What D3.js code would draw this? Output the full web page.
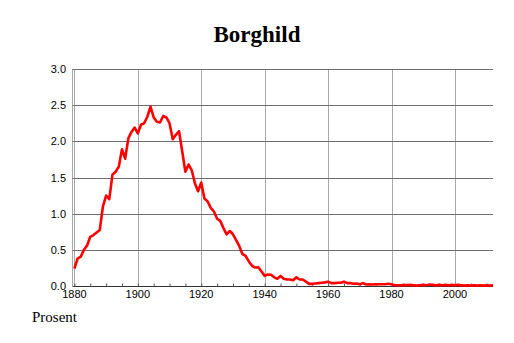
<!DOCTYPE html>
<html>
<head>
<meta charset="utf-8">
<script src="https://cdn.jsdelivr.net/npm/d3@7"></script>
<style>
  body { margin: 0; background: #fff; }
</style>
</head>
<body>
<div id="chart"></div>
<script>
const years = d3.range(1880, 2013);
const values = [
  0.24, 0.38, 0.405, 0.50, 0.56, 0.68, 0.705, 0.74, 0.775, 1.10,
  1.25, 1.20, 1.54, 1.58, 1.65, 1.89, 1.76, 2.04, 2.13, 2.19,
  2.11, 2.23, 2.25, 2.34, 2.48, 2.33, 2.27, 2.26, 2.35, 2.33,
  2.25, 2.03, 2.09, 2.14, 1.86, 1.58, 1.68, 1.60, 1.42, 1.31,
  1.43, 1.21, 1.17, 1.08, 1.03, 0.93, 0.90, 0.80, 0.715, 0.76,
  0.715, 0.635, 0.55, 0.44, 0.415, 0.34, 0.28, 0.255, 0.26, 0.20,
  0.14, 0.16, 0.155, 0.12, 0.10, 0.14, 0.10, 0.09, 0.09, 0.08,
  0.12, 0.09, 0.09, 0.06, 0.03, 0.03, 0.035, 0.04, 0.045, 0.05,
  0.06, 0.04, 0.04, 0.045, 0.045, 0.06, 0.04, 0.04, 0.03, 0.035,
  0.025, 0.04, 0.02, 0.025, 0.02, 0.025, 0.025, 0.025, 0.025, 0.03,
  0.025, 0.01, 0.01, 0.01, 0.015, 0.01, 0.015, 0.01, 0.005, 0.01,
  0.015, 0.01, 0.02, 0.015, 0.01, 0.015, 0.01, 0.015, 0.01, 0.015,
  0.01, 0.015, 0.01, 0.005, 0.01, 0.005, 0.01, 0.005, 0.01, 0.005,
  0.01, 0.005, 0.01
];
const yTicks = [0, 0.5, 1, 1.5, 2, 2.5, 3];
const xTicks = [1880, 1900, 1920, 1940, 1960, 1980, 2000];
const title = "Borghild";
const yLabel = "Prosent";

const width = 514, height = 343;
const plotLeft = 72.5, plotRight = 493, plotTop = 69, plotBottom = 286;

const svg = d3.select("#chart").append("svg")
  .attr("width", width)
  .attr("height", height);

const x = d3.scaleLinear().domain([1879.4, 2012]).range([plotLeft, plotRight]);
const y = d3.scaleLinear().domain([0, 3]).range([plotBottom, plotTop]);

// vertical grid
svg.append("g")
  .selectAll("line")
  .data(xTicks)
  .enter()
  .append("line")
  .attr("x1", (d) => Math.round(x(d)) + 0.5)
  .attr("x2", (d) => Math.round(x(d)) + 0.5)
  .attr("y1", plotTop)
  .attr("y2", plotBottom)
  .attr("stroke", "#a8a8a8")
  .attr("stroke-width", 1);

// left axis line
svg.append("line")
  .attr("x1", plotLeft).attr("x2", plotLeft)
  .attr("y1", plotTop).attr("y2", plotBottom)
  .attr("stroke", "#a8a8a8");

// horizontal grid
svg.append("g")
  .selectAll("line")
  .data(yTicks.filter((d) => d > 0))
  .enter()
  .append("line")
  .attr("x1", plotLeft)
  .attr("x2", plotRight)
  .attr("y1", (d) => Math.round(y(d)) + 0.5)
  .attr("y2", (d) => Math.round(y(d)) + 0.5)
  .attr("stroke", "#6e6e6e")
  .attr("stroke-width", 1);

// y labels
svg.append("g")
  .selectAll("text")
  .data(yTicks)
  .enter()
  .append("text")
  .attr("x", 66)
  .attr("y", (d) => y(d) + 4)
  .attr("text-anchor", "end")
  .style("font-family", "'Liberation Sans', Arial, sans-serif")
  .style("font-size", "11px")
  .text((d) => d.toFixed(1));

// bottom axis with minor ticks every 5 years
const xAxis = d3.axisBottom(x)
  .tickValues(d3.range(1880, 2013, 5))
  .tickSize(-3)
  .tickFormat("");
const gx = svg.append("g")
  .attr("transform", `translate(0,${plotBottom + 0.5})`)
  .call(xAxis);
gx.select(".domain").attr("d", `M${plotLeft},0H${plotRight}`).attr("stroke", "#333");
gx.selectAll(".tick line").attr("stroke", "#555");

svg.append("g")
  .selectAll("text")
  .data(xTicks)
  .enter()
  .append("text")
  .attr("x", (d) => x(d))
  .attr("y", 298)
  .attr("text-anchor", "middle")
  .style("font-family", "'Liberation Sans', Arial, sans-serif")
  .style("font-size", "11px")
  .text((d) => d);

// series line
const line = d3.line()
  .x((d, i) => x(years[i]))
  .y((d) => y(d));

svg.append("path")
  .datum(values)
  .attr("fill", "none")
  .attr("stroke", "#ff0000")
  .attr("stroke-width", 2.6)
  .attr("stroke-linejoin", "round")
  .attr("d", line);

// title
svg.append("text")
  .attr("x", 257)
  .attr("y", 42)
  .attr("text-anchor", "middle")
  .style("font-family", "'Liberation Serif', 'Times New Roman', serif")
  .style("font-weight", "bold")
  .style("font-size", "23px")
  .text(title);

svg.append("text")
  .attr("x", 32)
  .attr("y", 322)
  .style("font-family", "'Liberation Serif', 'Times New Roman', serif")
  .style("font-size", "15px")
  .text(yLabel);
</script>
</body>
</html>
